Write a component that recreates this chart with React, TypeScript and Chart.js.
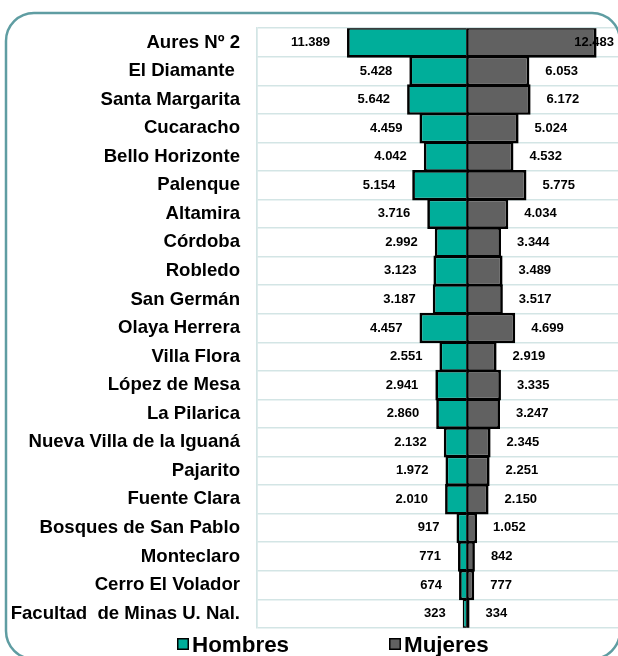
import React, { useEffect, useRef } from "react";
import { Chart, registerables } from "chart.js";

Chart.register(...registerables);

const categories = [
  "Aures Nº 2",
  "El Diamante ",
  "Santa Margarita",
  "Cucaracho",
  "Bello Horizonte",
  "Palenque",
  "Altamira",
  "Córdoba",
  "Robledo",
  "San Germán",
  "Olaya Herrera",
  "Villa Flora",
  "López de Mesa",
  "La Pilarica",
  "Nueva Villa de la Iguaná",
  "Pajarito",
  "Fuente Clara",
  "Bosques de San Pablo",
  "Monteclaro",
  "Cerro El Volador",
  "Facultad  de Minas U. Nal.",
];

const hombres = [11389, 5428, 5642, 4459, 4042, 5154, 3716, 2992, 3123, 3187, 4457, 2551, 2941, 2860, 2132, 1972, 2010, 917, 771, 674, 323];
const mujeres = [12483, 6053, 6172, 5024, 4532, 5775, 4034, 3344, 3489, 3517, 4699, 2919, 3335, 3247, 2345, 2251, 2150, 1052, 842, 777, 334];

const seriesNames = ["Hombres", "Mujeres"];

const TEAL = "#00AE9A";
const GRAY = "#616161";
const GRID = "#D3E5E5";
const FRAME = "#5F9DA2";
const FONT = "'Liberation Sans', Arial, sans-serif";

function fmt(v: number): string {
  const s = Math.round(Math.abs(v)).toString();
  return s.replace(/\B(?=(\d{3})+(?!\d))/g, ".");
}

const framePlugin = {
  id: "frame",
  beforeDraw(chart: any) {
    const ctx = chart.ctx;
    ctx.save();
    ctx.fillStyle = "#ffffff";
    ctx.fillRect(0, 0, chart.width, chart.height);
    ctx.restore();
  },
  afterDraw(chart: any) {
    const ctx = chart.ctx;
    ctx.save();
    ctx.strokeStyle = FRAME;
    ctx.lineWidth = 2.5;
    const x = 6, y = 13, w = 614, h = 646, r = 28;
    ctx.beginPath();
    ctx.moveTo(x + r, y);
    ctx.lineTo(x + w - r, y);
    ctx.arcTo(x + w, y, x + w, y + r, r);
    ctx.lineTo(x + w, y + h - r);
    ctx.arcTo(x + w, y + h, x + w - r, y + h, r);
    ctx.lineTo(x + r, y + h);
    ctx.arcTo(x, y + h, x, y + h - r, r);
    ctx.lineTo(x, y + r);
    ctx.arcTo(x, y, x + r, y, r);
    ctx.closePath();
    ctx.stroke();

    // legend
    ctx.font = `bold 22.4px ${FONT}`;
    ctx.textBaseline = "alphabetic";
    ctx.textAlign = "left";
    const items = [
      { x: 177, color: TEAL, text: seriesNames[0] },
      { x: 389, color: GRAY, text: seriesNames[1] },
    ];
    for (const it of items) {
      ctx.fillStyle = it.color;
      ctx.fillRect(it.x, 638, 12, 12);
      ctx.strokeStyle = "#000";
      ctx.lineWidth = 1.5;
      ctx.strokeRect(it.x + 0.75, 638.75, 10.5, 10.5);
      ctx.fillStyle = "#000";
      ctx.fillText(it.text, it.x + 15, 652);
    }
    ctx.restore();
  },
};

const labelPlugin = {
  id: "valueLabels",
  afterDatasetsDraw(chart: any) {
    const ctx = chart.ctx;
    ctx.save();
    ctx.font = `bold 13px ${FONT}`;
    ctx.fillStyle = "#000";
    ctx.textBaseline = "middle";
    chart.data.datasets.forEach((ds: any, di: number) => {
      const meta = chart.getDatasetMeta(di);
      meta.data.forEach((el: any, i: number) => {
        const v = ds.data[i];
        const t = fmt(v);
        if (v < 0) {
          ctx.textAlign = "right";
          ctx.fillText(t, el.x - 17, el.y);
        } else {
          ctx.textAlign = "left";
          const w = ctx.measureText(t).width;
          let x = el.x + 16;
          if (x + w > 614) x = 614 - w;
          ctx.fillText(t, x, el.y);
        }
      });
    });
    ctx.restore();
  },
};

export default function App() {
  const ref = useRef<HTMLCanvasElement | null>(null);

  useEffect(() => {
    if (!ref.current) return;
    const chart = new Chart(ref.current, {
      type: "bar",
      data: {
        labels: categories,
        datasets: [
          {
            label: seriesNames[0],
            data: hombres.map((v) => -v),
            backgroundColor: TEAL,
            borderColor: "#000",
            borderWidth: 2.7,
            borderSkipped: "start",
            barPercentage: 1.07,
            categoryPercentage: 1,
          },
          {
            label: seriesNames[1],
            data: mujeres,
            backgroundColor: GRAY,
            borderColor: "#000",
            borderWidth: 2.7,
            borderSkipped: false,
            barPercentage: 1.07,
            categoryPercentage: 1,
          },
        ],
      },
      options: {
        indexAxis: "y",
        responsive: false,
        animation: false,
        layout: { padding: { top: 25, bottom: 27, left: 0, right: 0 } },
        plugins: {
          legend: { display: false },
          tooltip: { enabled: false },
        },
        scales: {
          x: {
            stacked: true,
            min: -20000,
            max: 14531,
            ticks: { display: false, stepSize: 5000 },
            grid: { color: GRID, drawTicks: false, lineWidth: 1.5 },
            border: { display: false },
            afterBuildTicks: (scale: any) => {
              scale.ticks = scale.ticks.filter((t: any) => t.value % 5000 === 0);
            },
          },
          y: {
            stacked: true,
            ticks: {
              color: "#000",
              padding: 17,
              font: { family: FONT, size: 18.6, weight: "bold" },
            },
            grid: { color: GRID, drawTicks: false, offset: true, lineWidth: 1.5 },
            border: { color: GRID, width: 1.5 },
            afterFit: (scale: any) => {
              scale.width = 257;
            },
          },
        },
      },
      plugins: [framePlugin, labelPlugin],
    });
    return () => chart.destroy();
  }, []);

  return (
    <div style={{ position: "absolute", left: 0, top: 0, width: 618, height: 656, overflow: "hidden", background: "#fff" }}>
      <canvas ref={ref} width={618} height={656} style={{ display: "block", width: 618, height: 656 }} />
    </div>
  );
}
